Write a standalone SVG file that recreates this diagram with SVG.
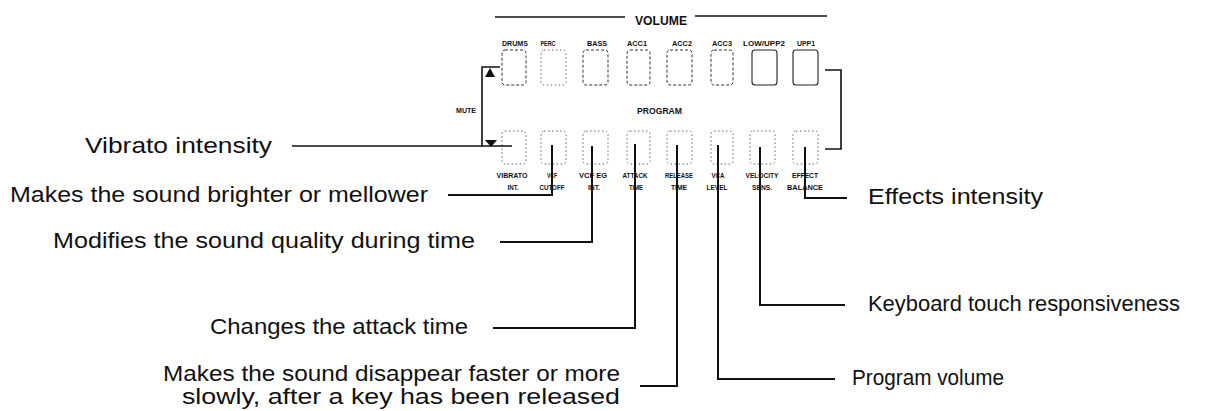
<svg xmlns="http://www.w3.org/2000/svg" width="1218" height="411" viewBox="0 0 1218 411">
<style>
.big{font-family:"Liberation Sans",Arial,sans-serif;font-size:22px;fill:#111}
.sm{font-family:"Liberation Sans",Arial,sans-serif;font-weight:bold;font-size:8px;fill:#111;text-anchor:middle}
.tiny{font-family:"Liberation Sans",Arial,sans-serif;font-weight:bold;font-size:7px;fill:#111;text-anchor:middle}
.hd{font-family:"Liberation Sans",Arial,sans-serif;font-weight:bold;fill:#111}
.btn{fill:none;stroke:#333;stroke-width:1;stroke-dasharray:3 2}
.btn2{fill:none;stroke:#555;stroke-width:0.9;stroke-dasharray:1.5 2.5}
.sol{fill:none;stroke:#222;stroke-width:1.1}
.ln{fill:none;stroke:#111;stroke-width:1.6}
.vl{fill:none;stroke:#111;stroke-width:2}
</style>
<rect width="1218" height="411" fill="#fff"/>

<g id="volume-header">
<line class="ln" x1="495" y1="17" x2="625" y2="17"/>
<text class="hd" x="635" y="25" font-size="12" textLength="52" lengthAdjust="spacingAndGlyphs">VOLUME</text>
<line class="ln" x1="695" y1="16" x2="827" y2="16"/>
</g>

<g id="volume-row">
<text class="tiny" x="515" y="46" textLength="26" lengthAdjust="spacingAndGlyphs">DRUMS</text>
<text class="tiny" x="548" y="46" textLength="15" lengthAdjust="spacingAndGlyphs">PERC</text>
<text class="tiny" x="597" y="46" textLength="20" lengthAdjust="spacingAndGlyphs">BASS</text>
<text class="tiny" x="637" y="46" textLength="20" lengthAdjust="spacingAndGlyphs">ACC1</text>
<text class="tiny" x="682" y="46" textLength="20" lengthAdjust="spacingAndGlyphs">ACC2</text>
<text class="tiny" x="722" y="46" textLength="20" lengthAdjust="spacingAndGlyphs">ACC3</text>
<text class="tiny" x="764" y="46" textLength="42" lengthAdjust="spacingAndGlyphs">LOW/UPP2</text>
<text class="tiny" x="806" y="46" textLength="18" lengthAdjust="spacingAndGlyphs">UPP1</text>
<rect class="btn" x="502" y="50" width="24" height="35" rx="3"/>
<rect class="btn2" x="541" y="50" width="25" height="35" rx="3"/>
<rect class="btn" x="583" y="50" width="25" height="35" rx="3"/>
<rect class="btn" x="627" y="50" width="23" height="35" rx="3"/>
<rect class="btn" x="667" y="50" width="25" height="35" rx="3"/>
<rect class="btn" x="711" y="50" width="22" height="35" rx="3"/>
<rect class="sol" x="752" y="50" width="25" height="35" rx="3"/>
<rect class="sol" x="793" y="50" width="25" height="35" rx="3"/>
</g>

<g id="mute">
<text class="tiny" x="466" y="113" textLength="20" lengthAdjust="spacingAndGlyphs">MUTE</text>
</g>

<g id="program-header">
<text class="hd" x="637" y="114" font-size="9" textLength="45" lengthAdjust="spacingAndGlyphs">PROGRAM</text>
</g>

<g id="program-row">
<rect class="btn2" x="502" y="131" width="24" height="33" rx="3"/>
<rect class="btn2" x="541" y="131" width="25" height="33" rx="3"/>
<rect class="btn2" x="583" y="131" width="25" height="33" rx="3"/>
<rect class="btn2" x="627" y="131" width="23" height="33" rx="3"/>
<rect class="btn2" x="667" y="131" width="25" height="33" rx="3"/>
<rect class="btn2" x="711" y="131" width="22" height="33" rx="3"/>
<rect class="btn2" x="750" y="131" width="25" height="33" rx="3"/>
<rect class="btn2" x="793" y="131" width="25" height="33" rx="3"/>
<text class="sm" x="512" y="178" textLength="31" lengthAdjust="spacingAndGlyphs">VIBRATO</text>
<text class="sm" x="513" y="190" textLength="11" lengthAdjust="spacingAndGlyphs">INT.</text>
<text class="sm" x="552" y="178" textLength="10" lengthAdjust="spacingAndGlyphs">VCF</text>
<text class="sm" x="552" y="190" textLength="25" lengthAdjust="spacingAndGlyphs">CUTOFF</text>
<text class="sm" x="593" y="178" textLength="28" lengthAdjust="spacingAndGlyphs">VCF EG</text>
<text class="sm" x="594" y="190" textLength="12" lengthAdjust="spacingAndGlyphs">INT.</text>
<text class="sm" x="635" y="178" textLength="25" lengthAdjust="spacingAndGlyphs">ATTACK</text>
<text class="sm" x="636" y="190" textLength="14" lengthAdjust="spacingAndGlyphs">TIME</text>
<text class="sm" x="679" y="178" textLength="28" lengthAdjust="spacingAndGlyphs">RELEASE</text>
<text class="sm" x="679" y="190" textLength="16" lengthAdjust="spacingAndGlyphs">TIME</text>
<text class="sm" x="718" y="178" textLength="13" lengthAdjust="spacingAndGlyphs">VCA</text>
<text class="sm" x="717" y="190" textLength="21" lengthAdjust="spacingAndGlyphs">LEVEL</text>
<text class="sm" x="762" y="178" textLength="33" lengthAdjust="spacingAndGlyphs">VELOCITY</text>
<text class="sm" x="762" y="190" textLength="20" lengthAdjust="spacingAndGlyphs">SENS.</text>
<text class="sm" x="805" y="178" textLength="26" lengthAdjust="spacingAndGlyphs">EFFECT</text>
<text class="sm" x="805" y="190" textLength="36" lengthAdjust="spacingAndGlyphs">BALANCE</text>
</g>

<g id="labels-left">
<text class="big" x="85" y="153" textLength="187" lengthAdjust="spacingAndGlyphs">Vibrato intensity</text>
<text class="big" x="10" y="202" textLength="418" lengthAdjust="spacingAndGlyphs">Makes the sound brighter or mellower</text>
<text class="big" x="53" y="248" textLength="422" lengthAdjust="spacingAndGlyphs">Modifies the sound quality during time</text>
<text class="big" x="210" y="334" textLength="258" lengthAdjust="spacingAndGlyphs">Changes the attack time</text>
<text class="big" x="163" y="381" textLength="457" lengthAdjust="spacingAndGlyphs">Makes the sound disappear faster or more</text>
<text class="big" x="182" y="404" textLength="438" lengthAdjust="spacingAndGlyphs">slowly, after a key has been released</text>
</g>

<g id="labels-right">
<text class="big" x="868" y="204" textLength="175" lengthAdjust="spacingAndGlyphs">Effects intensity</text>
<text class="big" x="868" y="311" textLength="312" lengthAdjust="spacingAndGlyphs">Keyboard touch responsiveness</text>
<text class="big" x="852" y="385" textLength="152" lengthAdjust="spacingAndGlyphs">Program volume</text>
</g>

<g id="connectors">
<polyline class="ln" points="500,67 482,67 482,146 512,146"/>
<polygon points="485,77 495,77 490,68" fill="#111"/>
<polygon points="485,140 497,140 491,147" fill="#111"/>
<line class="ln" x1="292" y1="146" x2="482" y2="146"/>
<polyline class="ln" points="825,70 841,70 841,149 825,149"/>
<polyline class="vl" points="552,145 552,195 448,195"/>
<polyline class="vl" points="592,146 592,242 500,242"/>
<polyline class="vl" points="635,144 635,328 493,328"/>
<polyline class="vl" points="677,145 677,386 640,386"/>
<polyline class="vl" points="718,145 718,379 835,379"/>
<polyline class="vl" points="760,147 760,305 845,305"/>
<polyline class="vl" points="805,147 805,198 847,198"/>
</g>
</svg>
